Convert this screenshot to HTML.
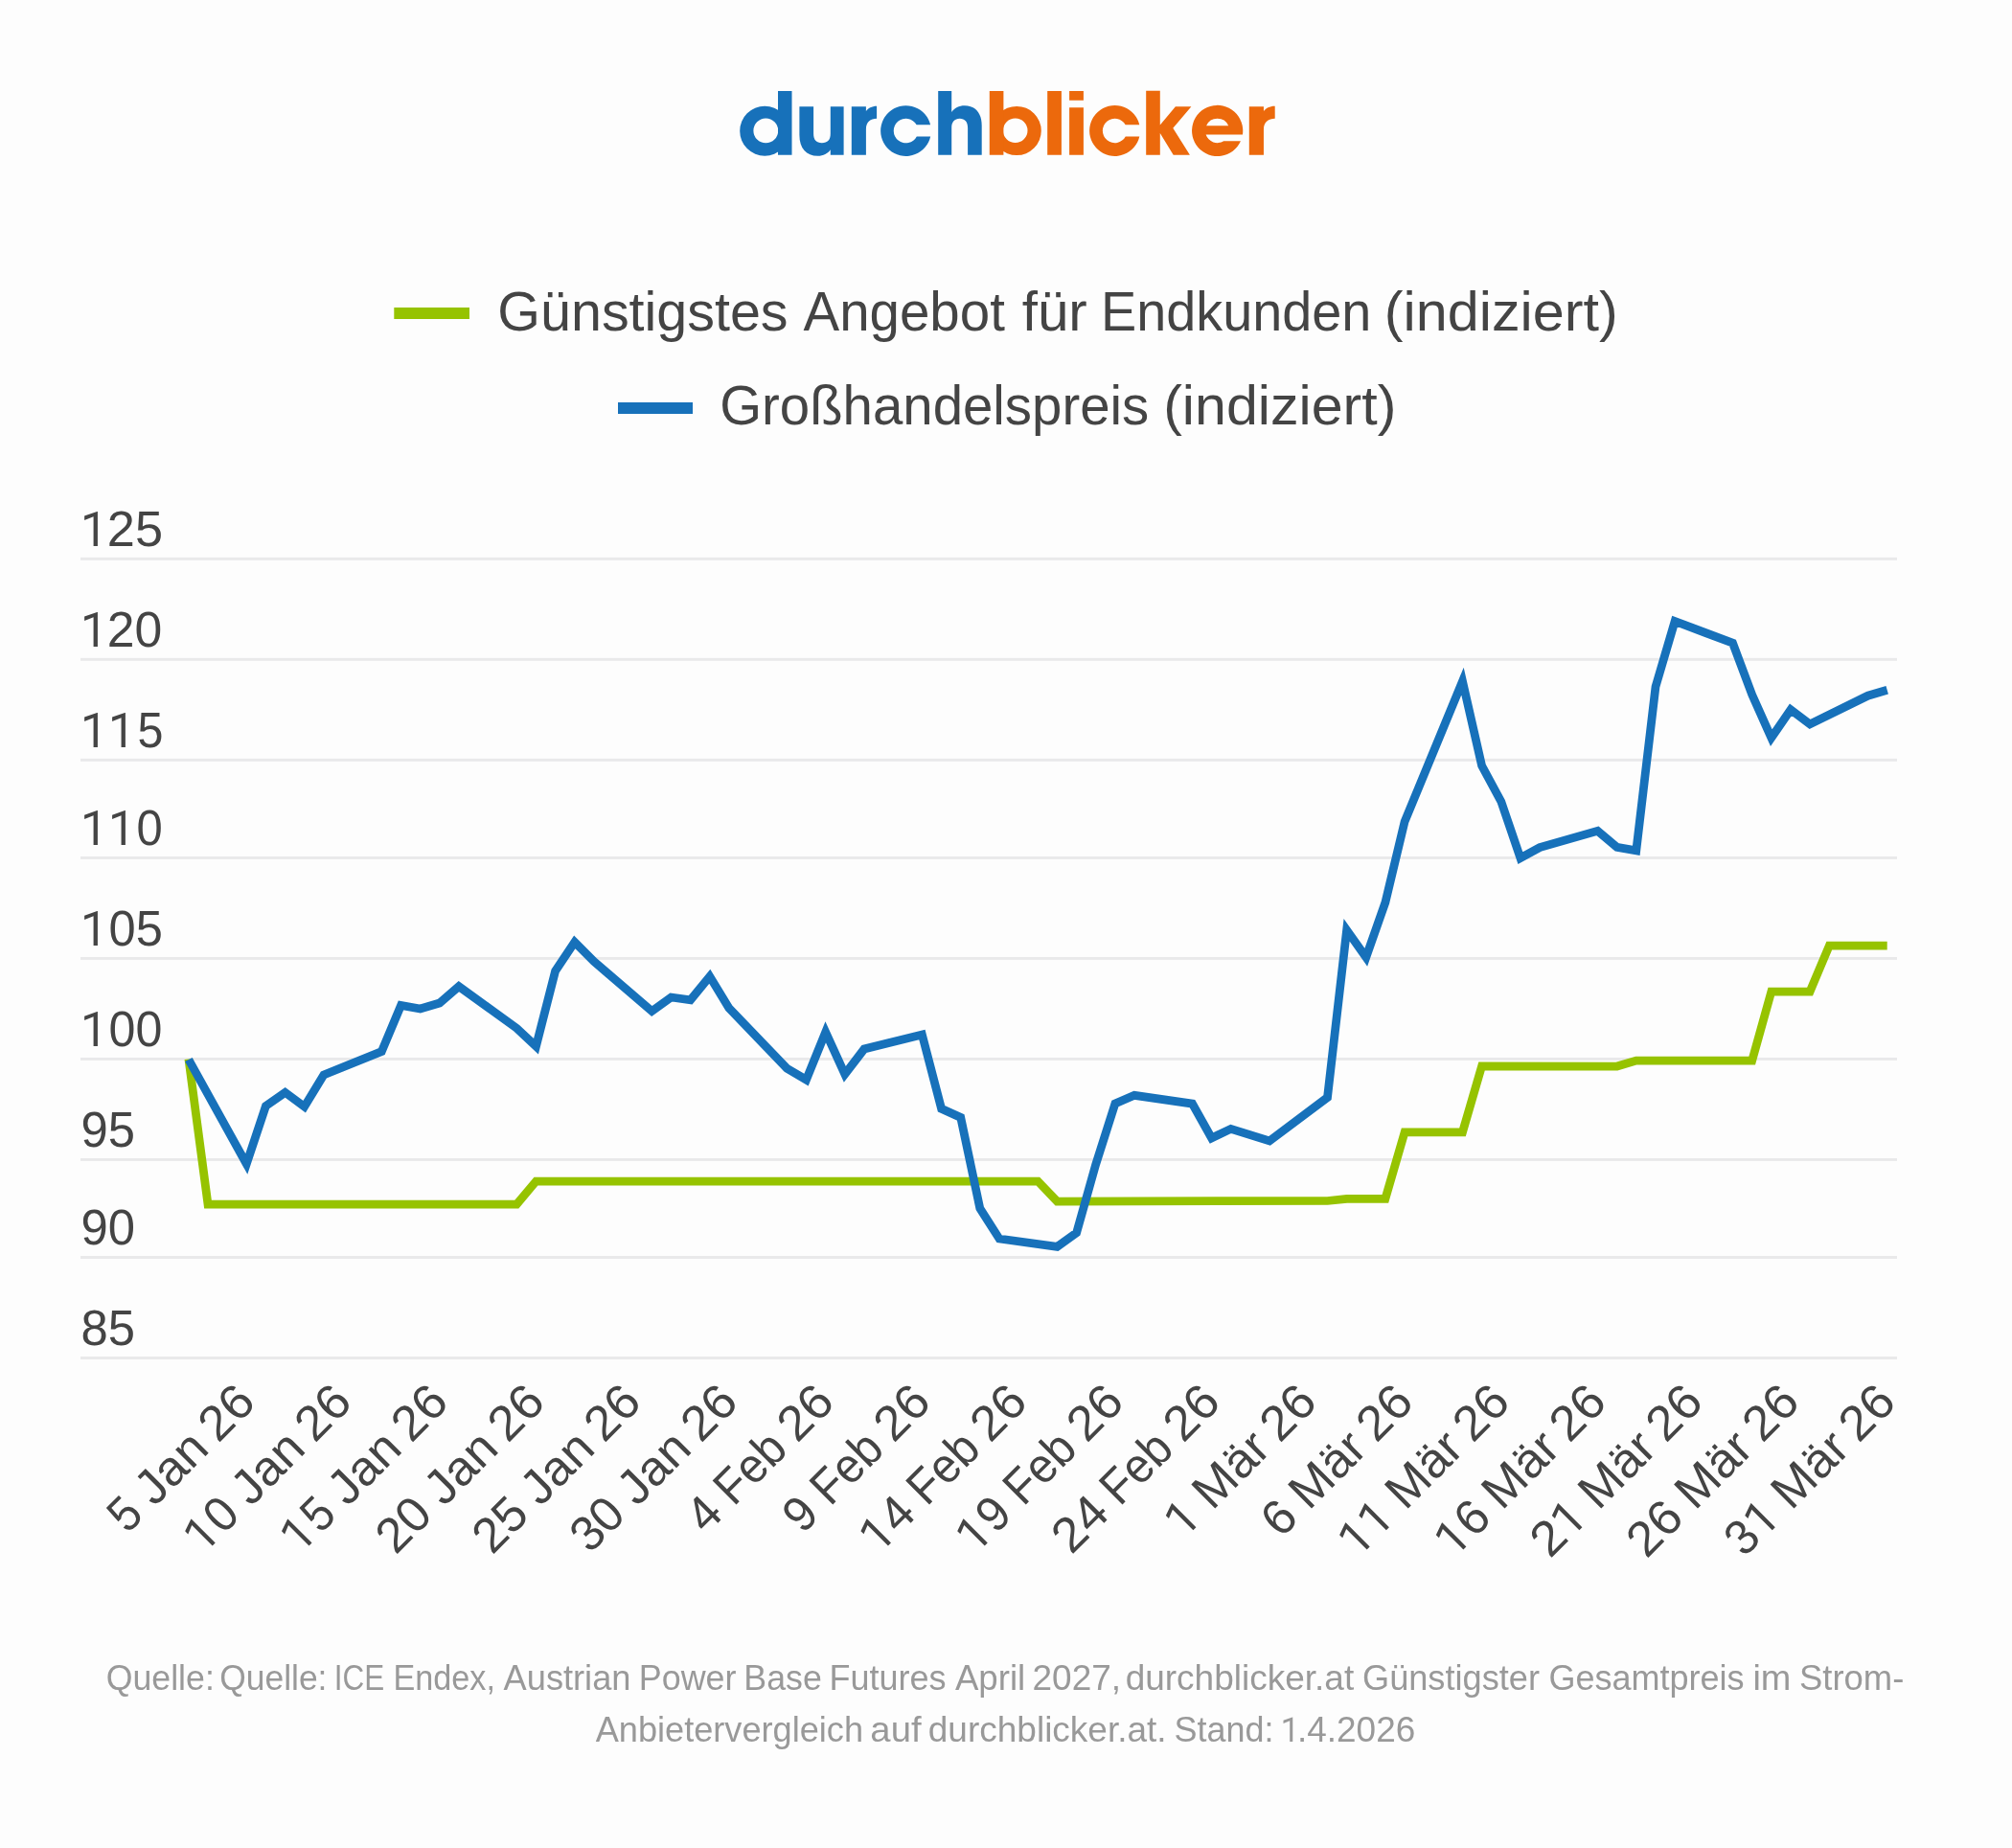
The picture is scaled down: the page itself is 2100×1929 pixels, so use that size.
<!DOCTYPE html>
<html><head><meta charset="utf-8"><title>durchblicker</title>
<style>
html,body{margin:0;padding:0;background:#fdfdfd;}
body{width:2100px;height:1929px;overflow:hidden;position:relative;font-family:"Liberation Sans",sans-serif;}
svg{position:absolute;left:0;top:0;display:block;will-change:transform;}
text{font-family:"Liberation Sans",sans-serif;}
</style></head><body>
<svg width="2100" height="1929" viewBox="0 0 2100 1929">
<rect width="2100" height="1929" fill="#fdfdfd"/>
<path fill="#1771ba" fill-rule="evenodd" d="M772.20,136.70A26.0,26.0 0 1 1 824.20,136.70A26.0,26.0 0 1 1 772.20,136.70ZM786.40,136.40A12.9,12.9 0 1 0 812.20,136.40A12.9,12.9 0 1 0 786.40,136.40Z"/>
<path fill="#1771ba" fill-rule="evenodd" d="M812,95.1H826.5V161.7H812Z"/>
<path fill="#1771ba" fill-rule="evenodd" d="M834.4,111.3H849.1V139.5C849.1,146 852,149.2 857.9,149.2C863.8,149.2 866.8,146 866.8,139.5V111.3H880.6V161.7H866.8V156.3C864,160.4 859.3,162.8 853.6,162.8C841.5,162.8 834.4,154.8 834.4,141Z"/>
<path fill="#1771ba" fill-rule="evenodd" d="M888.8,111.3H903.9V116C906.1,113 909.9,110.7 915.1,110.7V123.8C908.6,123.8 903.9,127.5 903.9,135V161.7H888.8Z"/>
<path fill="#1771ba" fill-rule="evenodd" d="M971.10,130.30A26.35,26.35 0 1 0 971.19,142.40L956.83,142.40A12.75,12.75 0 1 1 956.61,130.30Z"/>
<path fill="#1771ba" fill-rule="evenodd" d="M979.2,95.1H993.2V117C996,112.8 1001,110.2 1006.8,110.2C1018,110.2 1024.7,118 1024.7,131V161.7H1010.1V133.5C1010.1,127.2 1007,123.8 1001.7,123.8C996.4,123.8 993.2,127.4 993.2,133.5V161.7H979.2Z"/>
<path fill="#ec690c" fill-rule="evenodd" d="M1035.60,136.50A25.6,25.6 0 1 1 1086.80,136.50A25.6,25.6 0 1 1 1035.60,136.50ZM1046.90,136.30A12.8,12.8 0 1 0 1072.50,136.30A12.8,12.8 0 1 0 1046.90,136.30Z"/>
<path fill="#ec690c" fill-rule="evenodd" d="M1032.8,95.1H1047.4V161.7H1032.8Z"/>
<path fill="#ec690c" fill-rule="evenodd" d="M1093.2,95.1H1107.9V161.7H1093.2Z"/>
<path fill="#ec690c" fill-rule="evenodd" d="M1116.1,95.1H1130.9V104.8H1116.1Z M1116.1,112.2H1130.9V161.7H1116.1Z"/>
<path fill="#ec690c" fill-rule="evenodd" d="M1189.28,130.30A26.45,26.45 0 1 0 1189.32,142.40L1174.77,142.40A12.7,12.7 0 1 1 1174.66,130.30Z"/>
<path fill="#ec690c" fill-rule="evenodd" d="M1196.2,94.8H1210.8V130.5L1226.9,111.3H1243.4L1224.3,133.8L1241.9,161.7H1224.7L1210.8,139V161.7H1196.2Z"/>
<path fill="#ec690c" fill-rule="evenodd" d="M1294.94,147.30A26.6,26.6 0 1 1 1296.93,140.55L1258.63,140.55A12.7,12.7 0 0 0 1277.25,147.30ZM1259.09,131.20A12.7,12.7 0 0 1 1282.21,131.20Z"/>
<path fill="#ec690c" fill-rule="evenodd" d="M1303.8,111.3H1318.96V116C1321.16,113 1324.96,110.7 1330.7,110.7V123.8C1324.2,123.8 1318.96,127.5 1318.96,135V161.7H1303.8Z"/>
<rect x="411.3" y="321" width="78.7" height="12" fill="#96c300"/>
<rect x="645" y="420" width="78" height="12" fill="#1771ba"/>
<rect x="84" y="581.87" width="1896" height="2.92" fill="#e9e9ea"/>
<rect x="84" y="686.87" width="1896" height="2.92" fill="#e9e9ea"/>
<rect x="84" y="791.87" width="1896" height="2.92" fill="#e9e9ea"/>
<rect x="84" y="893.96" width="1896" height="2.92" fill="#e9e9ea"/>
<rect x="84" y="998.96" width="1896" height="2.92" fill="#e9e9ea"/>
<rect x="84" y="1103.96" width="1896" height="2.92" fill="#e9e9ea"/>
<rect x="84" y="1208.96" width="1896" height="2.92" fill="#e9e9ea"/>
<rect x="84" y="1311.04" width="1896" height="2.92" fill="#e9e9ea"/>
<rect x="84" y="1416.04" width="1896" height="2.92" fill="#e9e9ea"/>
<polyline fill="none" stroke="#96c300" stroke-width="8.75" stroke-linejoin="miter" stroke-miterlimit="10" points="196.9,1105.5 217.0,1257.0 539.3,1257.0 559.5,1233.0 1083.3,1233.0 1103.4,1254.0 1385.5,1253.5 1405.6,1251.3 1445.9,1251.3 1466.1,1181.8 1526.5,1181.8 1546.6,1112.8 1687.7,1113.0 1707.8,1107.1 1828.7,1107.1 1848.8,1035.0 1889.1,1035.0 1909.3,987.0 1969.7,987.0"/>
<polyline fill="none" stroke="#1771ba" stroke-width="8.75" stroke-linejoin="miter" stroke-miterlimit="10" points="196.9,1106.0 257.3,1215.0 277.4,1154.5 297.6,1140.3 317.7,1155.2 337.9,1122.0 398.3,1097.6 418.5,1049.5 438.6,1053.0 458.8,1047.0 478.9,1029.6 539.3,1073.3 559.5,1092.2 579.6,1013.6 599.8,983.3 619.9,1003.6 680.4,1055.5 700.5,1041.0 720.7,1043.8 740.8,1019.3 760.9,1052.3 821.4,1115.4 841.5,1127.1 861.7,1077.3 881.8,1121.3 902.0,1095.0 962.4,1080.0 982.6,1157.3 1002.7,1166.4 1022.8,1261.4 1043.0,1293.0 1103.4,1301.4 1123.6,1286.9 1143.7,1215.4 1163.9,1151.9 1184.0,1143.3 1244.5,1152.1 1264.6,1188.0 1284.7,1178.4 1325.0,1190.9 1385.5,1145.6 1405.6,970.8 1425.8,999.3 1445.9,942.0 1466.1,857.6 1526.5,711.1 1546.6,799.3 1566.8,836.7 1586.9,895.6 1607.1,884.6 1667.5,867.3 1687.7,884.4 1707.8,887.8 1728.0,716.8 1748.1,648.5 1808.5,671.2 1828.7,725.2 1848.8,770.2 1869.0,740.8 1889.1,755.9 1949.6,726.2 1969.7,720.3"/>
<g style="filter:opacity(1)">
<text x="519.39" y="344.6" font-size="57.2" fill="#444444" textLength="303.19" lengthAdjust="spacingAndGlyphs">Günstigstes</text>
<text x="838.50" y="344.6" font-size="57.2" fill="#444444" textLength="210.36" lengthAdjust="spacingAndGlyphs">Angebot</text>
<text x="1066.78" y="344.6" font-size="57.2" fill="#444444" textLength="67.98" lengthAdjust="spacingAndGlyphs">für</text>
<text x="1149.12" y="344.6" font-size="57.2" fill="#444444" textLength="282.17" lengthAdjust="spacingAndGlyphs">Endkunden</text>
<text x="1444.85" y="344.6" font-size="57.2" fill="#444444" textLength="243.96" lengthAdjust="spacingAndGlyphs">(indiziert)</text>
<text x="751.24" y="443.0" font-size="57.2" fill="#444444" textLength="447.97" lengthAdjust="spacingAndGlyphs">Großhandelspreis</text>
<text x="1214.16" y="443.0" font-size="57.2" fill="#444444" textLength="243.24" lengthAdjust="spacingAndGlyphs">(indiziert)</text>
<text x="111.84" y="569.9" font-size="51.2" fill="#444444" textLength="58.14" lengthAdjust="spacingAndGlyphs">25</text>
<text x="111.87" y="674.9" font-size="51.2" fill="#444444" textLength="57.48" lengthAdjust="spacingAndGlyphs">20</text>
<text x="143.41" y="779.9" font-size="51.2" fill="#444444" textLength="26.93" lengthAdjust="spacingAndGlyphs">5</text>
<text x="142.59" y="882.0" font-size="51.2" fill="#444444" textLength="27.22" lengthAdjust="spacingAndGlyphs">0</text>
<text x="113.52" y="987.0" font-size="51.2" fill="#444444" textLength="56.29" lengthAdjust="spacingAndGlyphs">05</text>
<text x="113.54" y="1092.0" font-size="51.2" fill="#444444" textLength="55.81" lengthAdjust="spacingAndGlyphs">00</text>
<text x="84.52" y="1197.0" font-size="51.2" fill="#444444" textLength="56.51" lengthAdjust="spacingAndGlyphs">95</text>
<text x="84.52" y="1299.1" font-size="51.2" fill="#444444" textLength="56.51" lengthAdjust="spacingAndGlyphs">90</text>
<text x="84.52" y="1404.1" font-size="51.2" fill="#444444" textLength="56.51" lengthAdjust="spacingAndGlyphs">85</text>
<text x="110.73" y="1763.6" font-size="36.2" fill="#999999" textLength="113.09" lengthAdjust="spacingAndGlyphs">Quelle:</text>
<text x="229.14" y="1763.6" font-size="36.2" fill="#999999" textLength="112.36" lengthAdjust="spacingAndGlyphs">Quelle:</text>
<text x="348.69" y="1763.6" font-size="36.2" fill="#999999" textLength="52.46" lengthAdjust="spacingAndGlyphs">ICE</text>
<text x="410.46" y="1763.6" font-size="36.2" fill="#999999" textLength="106.51" lengthAdjust="spacingAndGlyphs">Endex,</text>
<text x="525.60" y="1763.6" font-size="36.2" fill="#999999" textLength="132.87" lengthAdjust="spacingAndGlyphs">Austrian</text>
<text x="666.83" y="1763.6" font-size="36.2" fill="#999999" textLength="101.65" lengthAdjust="spacingAndGlyphs">Power</text>
<text x="776.34" y="1763.6" font-size="36.2" fill="#999999" textLength="81.43" lengthAdjust="spacingAndGlyphs">Base</text>
<text x="865.42" y="1763.6" font-size="36.2" fill="#999999" textLength="122.06" lengthAdjust="spacingAndGlyphs">Futures</text>
<text x="996.90" y="1763.6" font-size="36.2" fill="#999999" textLength="73.34" lengthAdjust="spacingAndGlyphs">April</text>
<text x="1077.56" y="1763.6" font-size="36.2" fill="#999999" textLength="92.48" lengthAdjust="spacingAndGlyphs">2027,</text>
<text x="1174.65" y="1763.6" font-size="36.2" fill="#999999" textLength="238.58" lengthAdjust="spacingAndGlyphs">durchblicker.at</text>
<text x="1422.00" y="1763.6" font-size="36.2" fill="#999999" textLength="184.95" lengthAdjust="spacingAndGlyphs">Günstigster</text>
<text x="1616.51" y="1763.6" font-size="36.2" fill="#999999" textLength="204.13" lengthAdjust="spacingAndGlyphs">Gesamtpreis</text>
<text x="1829.41" y="1763.6" font-size="36.2" fill="#999999" textLength="39.98" lengthAdjust="spacingAndGlyphs">im</text>
<text x="1877.99" y="1763.6" font-size="36.2" fill="#999999" textLength="109.29" lengthAdjust="spacingAndGlyphs">Strom-</text>
<text x="621.70" y="1818.0" font-size="36.2" fill="#999999" textLength="279.31" lengthAdjust="spacingAndGlyphs">Anbietervergleich</text>
<text x="908.39" y="1818.0" font-size="36.2" fill="#999999" textLength="53.14" lengthAdjust="spacingAndGlyphs">auf</text>
<text x="968.75" y="1818.0" font-size="36.2" fill="#999999" textLength="248.91" lengthAdjust="spacingAndGlyphs">durchblicker.at.</text>
<text x="1225.51" y="1818.0" font-size="36.2" fill="#999999" textLength="103.89" lengthAdjust="spacingAndGlyphs">Stand:</text>
<text x="1353.94" y="1818.0" font-size="36.2" fill="#999999" textLength="123.35" lengthAdjust="spacingAndGlyphs">.4.2026</text>
<path fill="#444444" d="M101.92,569.93L97.59,569.93L97.59,539.18L88.12,543.01L88.12,538.54L101.30,533.94L101.92,533.94Z"/>
<path fill="#444444" d="M101.92,674.93L97.59,674.93L97.59,644.18L88.12,648.01L88.12,643.54L101.30,638.94L101.92,638.94Z"/>
<path fill="#444444" d="M101.92,779.93L97.59,779.93L97.59,749.18L88.12,753.01L88.12,748.54L101.30,743.94L101.92,743.94Z"/>
<path fill="#444444" d="M130.89,779.93L126.56,779.93L126.56,749.18L117.09,753.01L117.09,748.54L130.27,743.94L130.89,743.94Z"/>
<path fill="#444444" d="M101.92,882.02L97.59,882.02L97.59,851.27L88.12,855.10L88.12,850.63L101.30,846.03L101.92,846.03Z"/>
<path fill="#444444" d="M130.89,882.02L126.56,882.02L126.56,851.27L117.09,855.10L117.09,850.63L130.27,846.03L130.89,846.03Z"/>
<path fill="#444444" d="M101.92,987.02L97.59,987.02L97.59,956.27L88.12,960.10L88.12,955.63L101.30,951.03L101.92,951.03Z"/>
<path fill="#444444" d="M101.92,1092.02L97.59,1092.02L97.59,1061.27L88.12,1065.10L88.12,1060.63L101.30,1056.03L101.92,1056.03Z"/>
<path fill="#999999" d="M1349.26,1818.00L1346.20,1818.00L1346.20,1796.26L1339.50,1798.97L1339.50,1795.81L1348.82,1792.55L1349.26,1792.55Z"/>
<g transform="translate(269.1,1465.5) rotate(-45)" font-size="51.2" fill="#444444"><text x="-192.65" y="0" textLength="26.33" lengthAdjust="spacingAndGlyphs">5</text><text x="-152.60" y="0" textLength="83.18" lengthAdjust="spacingAndGlyphs">Jan</text><text x="-58.56" y="0" textLength="58.03" lengthAdjust="spacingAndGlyphs">26</text></g>
<g transform="translate(369.8,1465.5) rotate(-45)" font-size="51.2" fill="#444444"><text x="-193.63" y="0" textLength="27.40" lengthAdjust="spacingAndGlyphs">0</text><text x="-152.60" y="0" textLength="83.18" lengthAdjust="spacingAndGlyphs">Jan</text><text x="-58.56" y="0" textLength="58.03" lengthAdjust="spacingAndGlyphs">26</text><path d="M-205.16,0.00L-209.43,0.00L-209.43,-30.36L-218.78,-26.58L-218.78,-30.99L-205.77,-35.53L-205.16,-35.53Z"/></g>
<g transform="translate(470.6,1465.5) rotate(-45)" font-size="51.2" fill="#444444"><text x="-192.65" y="0" textLength="26.33" lengthAdjust="spacingAndGlyphs">5</text><text x="-152.60" y="0" textLength="83.18" lengthAdjust="spacingAndGlyphs">Jan</text><text x="-58.56" y="0" textLength="58.03" lengthAdjust="spacingAndGlyphs">26</text><path d="M-205.16,0.00L-209.43,0.00L-209.43,-30.36L-218.78,-26.58L-218.78,-30.99L-205.77,-35.53L-205.16,-35.53Z"/></g>
<g transform="translate(571.3,1465.5) rotate(-45)" font-size="51.2" fill="#444444"><text x="-223.92" y="0" textLength="57.27" lengthAdjust="spacingAndGlyphs">20</text><text x="-152.60" y="0" textLength="83.18" lengthAdjust="spacingAndGlyphs">Jan</text><text x="-58.56" y="0" textLength="58.03" lengthAdjust="spacingAndGlyphs">26</text></g>
<g transform="translate(672.0,1465.5) rotate(-45)" font-size="51.2" fill="#444444"><text x="-223.92" y="0" textLength="57.27" lengthAdjust="spacingAndGlyphs">25</text><text x="-152.60" y="0" textLength="83.18" lengthAdjust="spacingAndGlyphs">Jan</text><text x="-58.56" y="0" textLength="58.03" lengthAdjust="spacingAndGlyphs">26</text></g>
<g transform="translate(772.8,1465.5) rotate(-45)" font-size="51.2" fill="#444444"><text x="-222.15" y="0" textLength="55.43" lengthAdjust="spacingAndGlyphs">30</text><text x="-152.60" y="0" textLength="83.18" lengthAdjust="spacingAndGlyphs">Jan</text><text x="-58.56" y="0" textLength="58.03" lengthAdjust="spacingAndGlyphs">26</text></g>
<g transform="translate(873.5,1465.5) rotate(-45)" font-size="51.2" fill="#444444"><text x="-193.51" y="0" textLength="28.58" lengthAdjust="spacingAndGlyphs">4</text><text x="-152.28" y="0" textLength="82.53" lengthAdjust="spacingAndGlyphs">Feb</text><text x="-58.56" y="0" textLength="58.03" lengthAdjust="spacingAndGlyphs">26</text></g>
<g transform="translate(974.2,1465.5) rotate(-45)" font-size="51.2" fill="#444444"><text x="-193.10" y="0" textLength="27.05" lengthAdjust="spacingAndGlyphs">9</text><text x="-152.28" y="0" textLength="82.53" lengthAdjust="spacingAndGlyphs">Feb</text><text x="-58.56" y="0" textLength="58.03" lengthAdjust="spacingAndGlyphs">26</text></g>
<g transform="translate(1074.9,1465.5) rotate(-45)" font-size="51.2" fill="#444444"><text x="-193.51" y="0" textLength="28.58" lengthAdjust="spacingAndGlyphs">4</text><text x="-152.28" y="0" textLength="82.53" lengthAdjust="spacingAndGlyphs">Feb</text><text x="-58.56" y="0" textLength="58.03" lengthAdjust="spacingAndGlyphs">26</text><path d="M-204.96,0.00L-209.23,0.00L-209.23,-30.36L-218.58,-26.58L-218.58,-30.99L-205.57,-35.53L-204.96,-35.53Z"/></g>
<g transform="translate(1175.7,1465.5) rotate(-45)" font-size="51.2" fill="#444444"><text x="-193.10" y="0" textLength="27.05" lengthAdjust="spacingAndGlyphs">9</text><text x="-152.28" y="0" textLength="82.53" lengthAdjust="spacingAndGlyphs">Feb</text><text x="-58.56" y="0" textLength="58.03" lengthAdjust="spacingAndGlyphs">26</text><path d="M-204.96,0.00L-209.23,0.00L-209.23,-30.36L-218.58,-26.58L-218.58,-30.99L-205.57,-35.53L-204.96,-35.53Z"/></g>
<g transform="translate(1276.4,1465.5) rotate(-45)" font-size="51.2" fill="#444444"><text x="-223.84" y="0" textLength="59.46" lengthAdjust="spacingAndGlyphs">24</text><text x="-152.28" y="0" textLength="82.53" lengthAdjust="spacingAndGlyphs">Feb</text><text x="-58.56" y="0" textLength="58.03" lengthAdjust="spacingAndGlyphs">26</text></g>
<g transform="translate(1377.1,1465.5) rotate(-45)" font-size="51.2" fill="#444444"><text x="-158.23" y="0" textLength="89.15" lengthAdjust="spacingAndGlyphs">Mär</text><text x="-58.56" y="0" textLength="58.03" lengthAdjust="spacingAndGlyphs">26</text><path d="M-182.01,0.00L-186.28,0.00L-186.28,-30.36L-195.63,-26.58L-195.63,-30.99L-182.62,-35.53L-182.01,-35.53Z"/></g>
<g transform="translate(1477.9,1465.5) rotate(-45)" font-size="51.2" fill="#444444"><text x="-199.24" y="0" textLength="28.34" lengthAdjust="spacingAndGlyphs">6</text><text x="-158.23" y="0" textLength="89.15" lengthAdjust="spacingAndGlyphs">Mär</text><text x="-58.56" y="0" textLength="58.03" lengthAdjust="spacingAndGlyphs">26</text></g>
<g transform="translate(1578.6,1465.5) rotate(-45)" font-size="51.2" fill="#444444"><text x="-158.23" y="0" textLength="89.15" lengthAdjust="spacingAndGlyphs">Mär</text><text x="-58.56" y="0" textLength="58.03" lengthAdjust="spacingAndGlyphs">26</text><path d="M-210.61,0.00L-214.88,0.00L-214.88,-30.36L-224.23,-26.58L-224.23,-30.99L-211.22,-35.53L-210.61,-35.53Z"/><path d="M-182.01,0.00L-186.28,0.00L-186.28,-30.36L-195.63,-26.58L-195.63,-30.99L-182.62,-35.53L-182.01,-35.53Z"/></g>
<g transform="translate(1679.3,1465.5) rotate(-45)" font-size="51.2" fill="#444444"><text x="-199.24" y="0" textLength="28.34" lengthAdjust="spacingAndGlyphs">6</text><text x="-158.23" y="0" textLength="89.15" lengthAdjust="spacingAndGlyphs">Mär</text><text x="-58.56" y="0" textLength="58.03" lengthAdjust="spacingAndGlyphs">26</text><path d="M-210.61,0.00L-214.88,0.00L-214.88,-30.36L-224.23,-26.58L-224.23,-30.99L-211.22,-35.53L-210.61,-35.53Z"/></g>
<g transform="translate(1780.1,1465.5) rotate(-45)" font-size="51.2" fill="#444444"><text x="-229.49" y="0" textLength="29.83" lengthAdjust="spacingAndGlyphs">2</text><text x="-158.23" y="0" textLength="89.15" lengthAdjust="spacingAndGlyphs">Mär</text><text x="-58.56" y="0" textLength="58.03" lengthAdjust="spacingAndGlyphs">26</text><path d="M-182.01,0.00L-186.28,0.00L-186.28,-30.36L-195.63,-26.58L-195.63,-30.99L-182.62,-35.53L-182.01,-35.53Z"/></g>
<g transform="translate(1880.8,1465.5) rotate(-45)" font-size="51.2" fill="#444444"><text x="-229.41" y="0" textLength="58.03" lengthAdjust="spacingAndGlyphs">26</text><text x="-158.23" y="0" textLength="89.15" lengthAdjust="spacingAndGlyphs">Mär</text><text x="-58.56" y="0" textLength="58.03" lengthAdjust="spacingAndGlyphs">26</text></g>
<g transform="translate(1981.5,1465.5) rotate(-45)" font-size="51.2" fill="#444444"><text x="-227.58" y="0" textLength="27.52" lengthAdjust="spacingAndGlyphs">3</text><text x="-158.23" y="0" textLength="89.15" lengthAdjust="spacingAndGlyphs">Mär</text><text x="-58.56" y="0" textLength="58.03" lengthAdjust="spacingAndGlyphs">26</text><path d="M-182.01,0.00L-186.28,0.00L-186.28,-30.36L-195.63,-26.58L-195.63,-30.99L-182.62,-35.53L-182.01,-35.53Z"/></g>
</g>
</svg></body></html>
